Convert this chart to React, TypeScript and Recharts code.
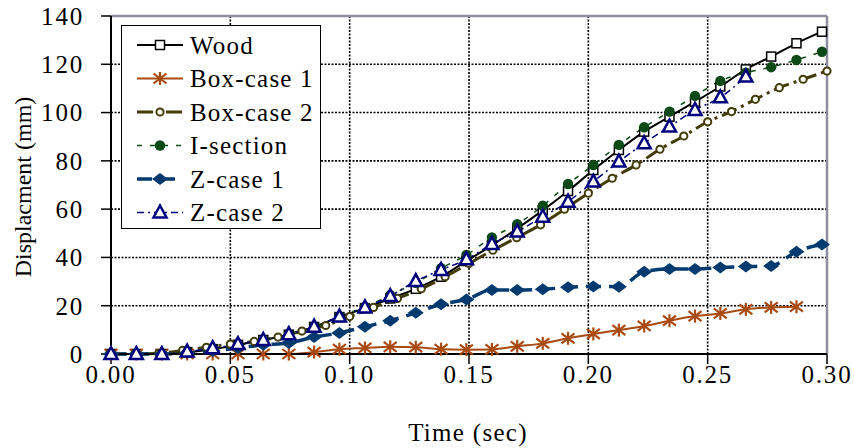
import React from 'react';
import { LineChart, Line, XAxis, YAxis, CartesianGrid, ReferenceLine, Legend } from 'recharts';

// sample times: most series logged at 1/94 s, Box-case 2 at 0.01 s
const timeA = [0, 0.0106, 0.0213, 0.0319, 0.0426, 0.0532, 0.0638, 0.0745, 0.0851, 0.0957, 0.1064, 0.117, 0.1277, 0.1383, 0.1489, 0.1596, 0.1702, 0.1809, 0.1915, 0.2021, 0.2128, 0.2234, 0.234, 0.2447, 0.2553, 0.266, 0.2766, 0.2872, 0.2979];
const timeB = [0, 0.01, 0.02, 0.03, 0.04, 0.05, 0.06, 0.07, 0.08, 0.09, 0.1, 0.11, 0.12, 0.13, 0.14, 0.15, 0.16, 0.17, 0.18, 0.19, 0.2, 0.21, 0.22, 0.23, 0.24, 0.25, 0.26, 0.27, 0.28, 0.29, 0.3];

const wood = [0, 0, 0, 0.8, 2.0, 3.8, 5.8, 8.0, 11.2, 15.3, 19.0, 23.0, 27.0, 32.0, 38.5, 45.0, 52.0, 59.5, 67.5, 76.2, 84.5, 92.1, 98.3, 104.5, 110.8, 117.9, 123.2, 128.7, 133.5];
const boxCase1 = [0, 0, 0, 0, 0, 0, 0, 0, 0.8, 2.0, 2.5, 3.0, 2.8, 2.0, 1.8, 1.9, 3.2, 4.4, 6.5, 8.3, 9.9, 11.6, 13.8, 15.7, 16.8, 18.5, 19.3, 19.6];
const boxCase2 = [0, 0, 0.3, 1.5, 2.8, 4.1, 5.2, 7.0, 9.5, 11.8, 15.5, 19.3, 23.0, 27.0, 32.0, 37.5, 43.0, 48.2, 53.5, 60.0, 66.6, 72.8, 78.3, 84.8, 90.3, 96.2, 100.4, 105.5, 110.3, 113.8, 117.2];
const iSection = [0, 0, 0, 0.8, 2.0, 3.5, 5.5, 8.0, 11.2, 15.5, 19.5, 24.4, 29.5, 35.5, 41.0, 48.3, 53.8, 61.4, 70.4, 78.3, 86.6, 93.9, 100.4, 106.9, 113.1, 116.5, 118.8, 121.8, 125.2];
const zCase1 = [0, 0, 0, 0.5, 1.2, 2.5, 3.8, 4.6, 7.0, 8.7, 11.3, 13.8, 17.1, 20.6, 22.6, 26.5, 26.5, 26.8, 27.6, 28.0, 27.9, 34.1, 35.2, 35.2, 35.8, 36.2, 36.5, 42.4, 45.4];
const zCase2 = [0, 0, 0, 1.0, 2.4, 4.1, 5.8, 8.2, 11.3, 15.5, 19.3, 24.0, 30.2, 34.8, 39.2, 45.6, 50.7, 56.9, 63.1, 71.4, 79.7, 87.3, 94.2, 101.1, 106.3, 114.9];

const xTicks = [0, 0.05, 0.1, 0.15, 0.2, 0.25, 0.3];
const yTicks = [0, 20, 40, 60, 80, 100, 120, 140];

const pts = (ts: number[], vs: number[]) => vs.map((v, i) => ({ t: ts[i], v }));

const FONT = '"Liberation Serif", "Times New Roman", serif';

const series = [
  { name: 'Wood', data: pts(timeA, wood), color: '#000000', width: 2, dash: undefined, shape: 'square' },
  { name: 'Box-case 1', data: pts(timeA, boxCase1), color: '#A84A12', width: 2, dash: undefined, shape: 'star' },
  { name: 'Box-case 2', data: pts(timeB, boxCase2), color: '#423C08', width: 3, dash: '16 5 3 5', shape: 'ocircle' },
  { name: 'I-section', data: pts(timeA, iSection), color: '#0B4A16', width: 1.5, dash: '5 8', shape: 'dot' },
  { name: 'Z-case 1', data: pts(timeA, zCase1), color: '#003A6E', width: 3.5, dash: '15 8', shape: 'diamond' },
  { name: 'Z-case 2', data: pts(timeA, zCase2), color: '#00007E', width: 1.5, dash: '7 4 2 4', shape: 'triangle' },
];

function Marker({ shape, cx, cy, color }: { shape: string; cx: number; cy: number; color: string }) {
  if (cx == null || cy == null) return null;
  switch (shape) {
    case 'square':
      return <rect x={cx - 4.5} y={cy - 4.5} width={9} height={9} fill="#fff" stroke={color} strokeWidth={1.5} />;
    case 'star':
      return (
        <g stroke={color} strokeWidth={2.2}>
          <line x1={cx} y1={cy - 6.5} x2={cx} y2={cy + 6.5} />
          <line x1={cx - 6.5} y1={cy - 5} x2={cx + 6.5} y2={cy + 5} />
          <line x1={cx - 6.5} y1={cy + 5} x2={cx + 6.5} y2={cy - 5} />
        </g>
      );
    case 'ocircle':
      return <circle cx={cx} cy={cy} r={3.6} fill="#fff" stroke={color} strokeWidth={2} />;
    case 'dot':
      return <circle cx={cx} cy={cy} r={5.2} fill={color} />;
    case 'diamond':
      return <polygon points={`${cx - 8},${cy} ${cx},${cy - 6} ${cx + 8},${cy} ${cx},${cy + 6}`} fill={color} />;
    case 'triangle':
      return <polygon points={`${cx},${cy - 7} ${cx + 6.5},${cy + 5} ${cx - 6.5},${cy + 5}`} fill="#fff" stroke={color} strokeWidth={2.5} strokeLinejoin="miter" />;
    default:
      return null;
  }
}

const renderLegend = () => (
  <div style={{ width: 200, height: 204, border: '1.5px solid #000', background: '#fff', boxSizing: 'border-box' }}>
    <svg width={197} height={201}>
      {series.map((s, i) => {
        const y = 19 + i * 33.5;
        return (
          <g key={s.name}>
            <line x1={15} y1={y} x2={61} y2={y} stroke={s.color} strokeWidth={s.width} strokeDasharray={s.dash} />
            <Marker shape={s.shape} cx={38} cy={y} color={s.color} />
            <text x={68} y={y + 8.5} fontSize={25} fontFamily={FONT} letterSpacing={1.2} fill="#000">{s.name}</text>
          </g>
        );
      })}
    </svg>
  </div>
);

const tickStyle = { fontSize: 25, fontFamily: FONT, fill: '#000', letterSpacing: 1.8 };

export default function App() {
  return (
    <div style={{ position: 'absolute', left: 0, top: 0, width: 854, height: 448, background: '#fff' }}>
      <LineChart width={854} height={448} margin={{ top: 16, right: 27, left: 0, bottom: 0 }}>
        <CartesianGrid stroke="#000" strokeDasharray="2 1.5" strokeWidth={1.6} />
        <XAxis
          dataKey="t"
          type="number"
          domain={[0, 0.3]}
          ticks={xTicks}
          allowDuplicatedCategory={false}
          tickFormatter={(v: number) => v.toFixed(2)}
          height={94}
          tickSize={10}
          tickMargin={1}
          stroke="#000"
          axisLine={{ stroke: '#000', strokeWidth: 2 }}
          tickLine={{ stroke: '#000', strokeWidth: 1.5 }}
          tick={tickStyle}
          label={{
            content: () => (
              <text x={468} y={441} textAnchor="middle" fontSize={25} fontFamily={FONT} letterSpacing={1.3} fill="#000">
                Time (sec)
              </text>
            ),
          }}
        />
        <YAxis
          type="number"
          domain={[0, 140]}
          ticks={yTicks}
          width={111}
          tickSize={10}
          tickMargin={17}
          axisLine={{ stroke: '#000', strokeWidth: 2 }}
          tickLine={{ stroke: '#000', strokeWidth: 1.5 }}
          tick={tickStyle}
          label={{
            content: () => (
              <text x={31} y={187} transform="rotate(-90 31 187)" textAnchor="middle" fontSize={24} fontFamily={FONT} fill="#000">
                Displacment (mm)
              </text>
            ),
          }}
        />
        <ReferenceLine y={140} stroke="#8E8E9E" strokeWidth={2.5} />
        <ReferenceLine x={0.3} stroke="#8E8E9E" strokeWidth={2.5} />
        {series.map((s) => (
          <Line
            key={s.name}
            name={s.name}
            data={s.data}
            dataKey="v"
            type="monotone"
            stroke={s.color}
            strokeWidth={s.width}
            strokeDasharray={s.dash}
            isAnimationActive={false}
            dot={(p: any) => <Marker key={`${s.name}-${p.index}`} shape={s.shape} cx={p.cx} cy={p.cy} color={s.color} />}
            activeDot={false}
          />
        ))}
        <Legend
          layout="vertical"
          align="center"
          verticalAlign="middle"
          content={renderLegend}
          wrapperStyle={{ left: 121, top: 25, width: 200, height: 204 }}
        />
      </LineChart>
    </div>
  );
}
